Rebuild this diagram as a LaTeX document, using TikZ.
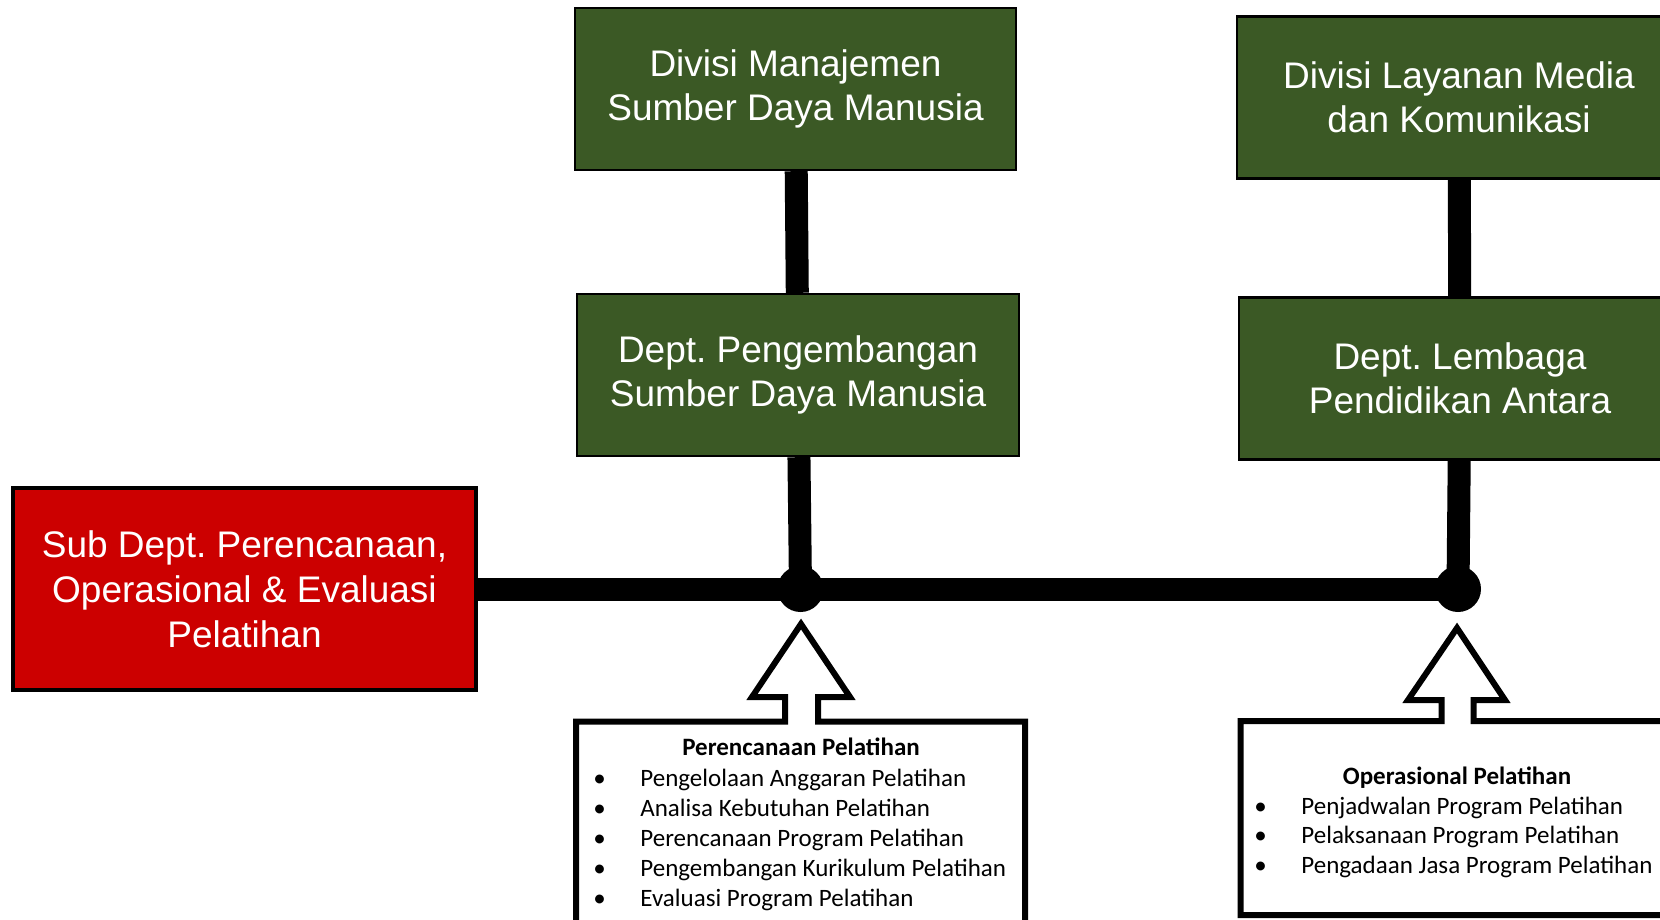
\documentclass[tikz,border=0pt]{standalone}
\usepackage{fontspec}
\setmainfont{Liberation Sans}
\newfontfamily\calibrifont{Carlito}
\frenchspacing

\definecolor{orggreen}{RGB}{59,89,37}
\definecolor{orgred}{RGB}{204,0,0}

\begin{document}
\begin{tikzpicture}[x=0.5pt,y=-0.5pt,
  unitbox/.style={draw=black, line width=1.2pt, fill=orggreen, text=white,
    align=center, font=\fontsize{18.5}{22}\selectfont,
    minimum width=221pt, minimum height=81pt, inner sep=0pt},
  subbox/.style={draw=black, line width=1.6pt, fill=orgred, text=white,
    align=center, font=\fontsize{18.5}{22.5}\selectfont,
    minimum width=231.5pt, minimum height=101pt, inner sep=0pt},
  link/.style={line width=11.5pt},
  junction/.style={circle, fill=black, minimum size=23pt, inner sep=0pt},
  callout/.style={draw=black, fill=white, line width=3pt, line join=miter},
  listhead/.style={font=\calibrifont\bfseries\fontsize{12.5}{15}\selectfont,
    inner sep=0pt, anchor=base},
  listbody/.style={font=\calibrifont\fontsize{12.5}{15}\selectfont,
    inner sep=0pt, anchor=base west},
]
\useasboundingbox (0,0) rectangle (1660,920);

% organisation units
\node[unitbox, minimum width=220.5pt] (div1) at (795.5,89)
  {Divisi Manajemen\\Sumber Daya Manusia};
\node[unitbox] (dep1) at (798,375)
  {Dept. Pengembangan\\Sumber Daya Manusia};
\node[unitbox, minimum width=222pt] (div2) at (1459,97.5)
  {Divisi Layanan Media\\dan Komunikasi};
\node[unitbox] (dep2) at (1460,378.5)
  {Dept. Lembaga\\Pendidikan Antara};
\node[subbox] (sub) at (244.5,589)
  {Sub Dept. Perencanaan,\\Operasional \& Evaluasi\\Pelatihan};

% junction dots on the main line
\node[junction] (j1) at (800.5,589) {};
\node[junction] (j2) at (1458,589) {};

% reporting lines (run into the junction centres so the dots close them off)
\draw[link] (div1) -- (dep1);
\draw[link] (dep1) -- (j1.center);
\draw[link] (div2) -- (dep2);
\draw[link] (dep2) -- (j2.center);
\draw[link] (sub) -- (j2.center);

% hollow arrow callouts with task lists
\draw[callout] (576,945) -- (576,721.5) -- (785,721.5) -- (785,697)
  -- (752,697) -- (801,624) -- (850,697) -- (818,697) -- (818,721.5)
  -- (1025,721.5) -- (1025,945);
\draw[callout] (1700,915) -- (1240.5,915) -- (1240.5,721) -- (1441.5,721)
  -- (1441.5,700) -- (1408,700) -- (1457,628) -- (1505,700) -- (1473.5,700)
  -- (1473.5,721) -- (1700,721);

\node[listhead] (h1) at (801,755) {Perencanaan Pelatihan};
\node[listbody] (l1) at (593,786) {\begin{tabular}[t]{@{}l@{}l@{}}
  \makebox[23.5pt][l]{•} & Pengelolaan Anggaran Pelatihan\\
  \makebox[23.5pt][l]{•} & Analisa Kebutuhan Pelatihan\\
  \makebox[23.5pt][l]{•} & Perencanaan Program Pelatihan\\
  \makebox[23.5pt][l]{•} & Pengembangan Kurikulum Pelatihan\\
  \makebox[23.5pt][l]{•} & Evaluasi Program Pelatihan
\end{tabular}};

\node[listhead] (h2) at (1457,784) {Operasional Pelatihan};
\node[listbody, font=\calibrifont\fontsize{12.5}{14.75}\selectfont] (l2) at (1254,814) {\begin{tabular}[t]{@{}l@{}l@{}}
  \makebox[23.5pt][l]{•} & Penjadwalan Program Pelatihan\\
  \makebox[23.5pt][l]{•} & Pelaksanaan Program Pelatihan\\
  \makebox[23.5pt][l]{•} & Pengadaan Jasa Program Pelatihan
\end{tabular}};
\end{tikzpicture}
\end{document}
